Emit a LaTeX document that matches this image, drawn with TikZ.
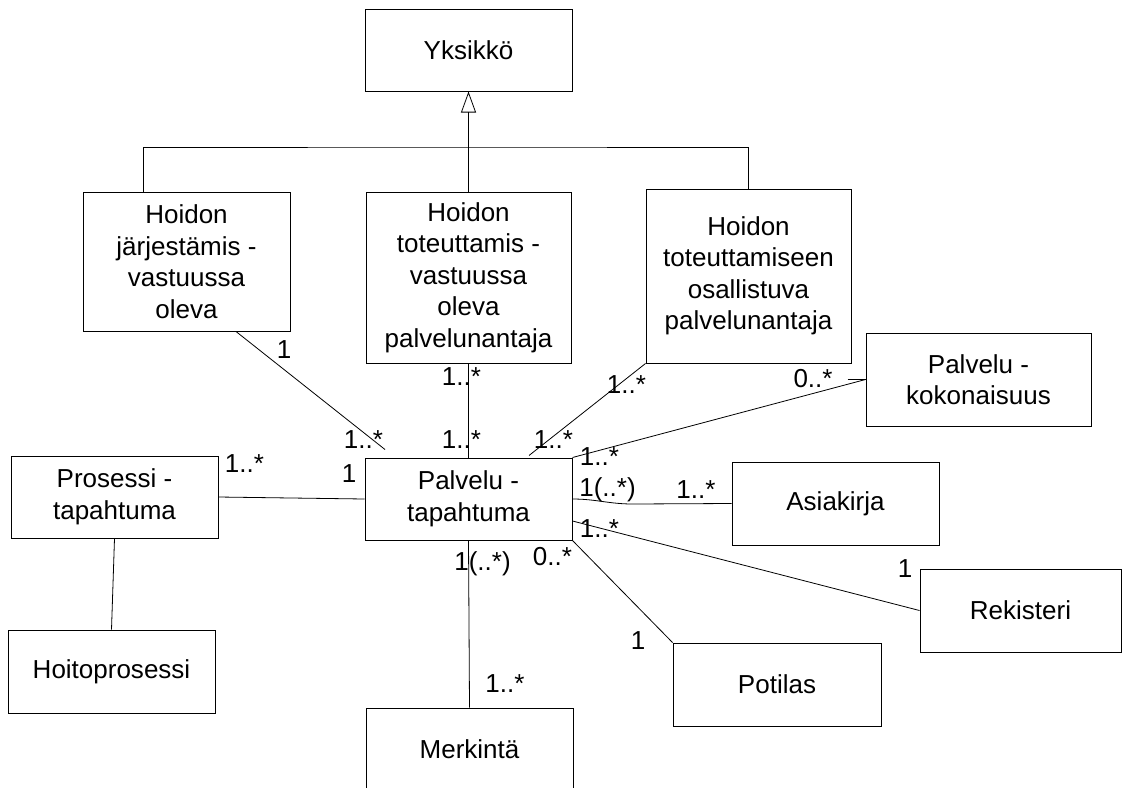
\documentclass[tikz,border=0pt]{standalone}
\usepackage{fontspec}
\setmainfont{Liberation Sans}
\usetikzlibrary{arrows.meta}
\begin{document}
\begin{tikzpicture}[x=1pt,y=-1pt,
  box/.style={draw, line width=1pt, inner sep=0pt, align=center,
    font=\fontsize{26}{31.5}\selectfont},
  link/.style={line width=0.8pt},
  mult/.style={inner sep=0pt, anchor=base, font=\fontsize{26}{31.5}\selectfont}]
\useasboundingbox (0,0) rectangle (1123,787);

% classes
\node[box, minimum width=207pt, minimum height=82pt] (yks) at (468.5,50) {Yksikkö};
\node[box, minimum width=207pt, minimum height=139pt] (hj) at (186.5,261.5)
  {Hoidon\\järjestämis -\\vastuussa\\oleva};
\node[box, minimum width=205pt, minimum height=171pt] (ht) at (468.5,277.5)
  {Hoidon\\toteuttamis -\\vastuussa\\oleva\\palvelunantaja};
\node[box, minimum width=205pt, minimum height=174pt] (ho) at (748.5,276)
  {Hoidon\\toteuttamiseen\\osallistuva\\palvelunantaja};
\node[box, minimum width=225pt, minimum height=93pt] (pk) at (978.5,379.5)
  {Palvelu -\\kokonaisuus};
\node[box, minimum width=207pt, minimum height=82pt] (pt) at (468.5,499)
  {Palvelu -\\tapahtuma};
\node[box, minimum width=207pt, minimum height=82pt] (pr) at (114.5,497)
  {Prosessi -\\tapahtuma};
\node[box, minimum width=207pt, minimum height=83pt] (hp) at (111.5,671.5) {Hoitoprosessi};
\node[box, minimum width=207pt, minimum height=83pt] (as) at (835.5,503.5) {Asiakirja};
\node[box, minimum width=201pt, minimum height=83pt] (re) at (1020.5,610.5) {Rekisteri};
\node[box, minimum width=208pt, minimum height=83pt] (po) at (777,684.5) {Potilas};
\node[box, minimum width=207pt, minimum height=83pt] (me) at (469.5,749.5) {Merkintä};

% generalization
\coordinate (bar) at (468.5,147);
\draw[link, -{Triangle[open, length=21pt, width=15pt]}] (ht.north) -- (yks.south);
\draw[link] ([xshift=-43.5pt]hj.north) |- (bar) -| (ho.north);

% associations
\draw[link] ([xshift=49.5pt]hj.south) -- ([xshift=-83.5pt, yshift=8pt]pt.north);
\draw[link] (ht.south) -- (pt.north);
\draw[link] (ho.south west) -- ([xshift=60.5pt, yshift=2pt]pt.north);
\draw[link] (pt.north east) -- (pk.west);
\draw[link] ([xshift=-18pt]pk.west) -- (pk.west);
\draw[link] (pt.east) to[out=0, in=180] ++(60,5) -- (as.west);
\draw[link] ([yshift=-22pt]pt.east) -- (re.west);
\draw[link] (pt.south east) -- (po.north west);
\draw[link] (pt.south) -- (me.north);
\draw[link] (pr.east) -- (pt.west);
\draw[link] (pr.south) -- (hp.north);

% multiplicities
\node[mult] (m1)  at (284,358)   {1};
\node[mult] (m2)  at (363.5,448) {1..*};
\node[mult] (m3)  at (349,482)   {1};
\node[mult] (m4)  at (461.5,385) {1..*};
\node[mult] (m5)  at (461.5,448) {1..*};
\node[mult] (m6)  at (626.5,393) {1..*};
\node[mult] (m7)  at (553.5,448) {1..*};
\node[mult] (m8)  at (599.5,465) {1..*};
\node[mult] (m9)  at (813,387)   {0..*};
\node[mult] (m10) at (607.5,496) {1(..*)};
\node[mult] (m11) at (696,498)   {1..*};
\node[mult] (m12) at (599.5,537) {1..*};
\node[mult] (m13) at (905,577)   {1};
\node[mult] (m14) at (482.5,570) {1(..*)};
\node[mult] (m15) at (552.5,565) {0..*};
\node[mult] (m16) at (638,649)   {1};
\node[mult] (m17) at (505,692)   {1..*};
\node[mult] (m18) at (244.5,472) {1..*};
\end{tikzpicture}
\end{document}
